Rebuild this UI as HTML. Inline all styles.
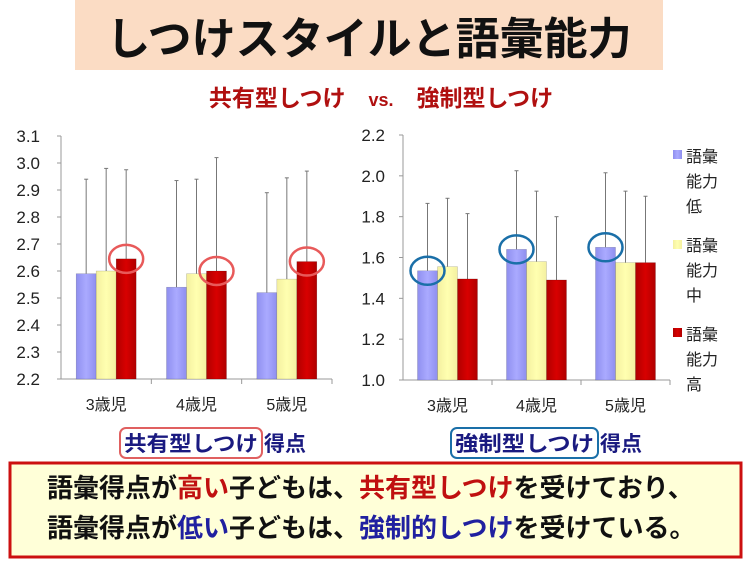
<!DOCTYPE html>
<html><head><meta charset="utf-8">
<style>
body{margin:0;width:750px;height:563px;background:#fff;overflow:hidden;font-family:"Liberation Sans","Noto Sans CJK JP",sans-serif;}
svg{position:absolute;left:0;top:0}
</style></head><body>
<svg id="chart" width="750" height="563" xmlns="http://www.w3.org/2000/svg">
<defs>
<linearGradient id="gb" x1="0" x2="1"><stop offset="0" stop-color="#8f8fef"/><stop offset="0.5" stop-color="#aaaaff"/><stop offset="1" stop-color="#8f8fef"/></linearGradient>
<linearGradient id="gy" x1="0" x2="1"><stop offset="0" stop-color="#f4f0a0"/><stop offset="0.5" stop-color="#ffffb0"/><stop offset="1" stop-color="#f4f0a0"/></linearGradient>
<linearGradient id="gr" x1="0" x2="1"><stop offset="0" stop-color="#b00000"/><stop offset="0.5" stop-color="#d80000"/><stop offset="1" stop-color="#b00000"/></linearGradient>
</defs>
<rect x="75" y="0" width="588" height="70" fill="#fbdcc4"/>
<text x="369" y="54" text-anchor="middle" font-size="44" font-weight="bold" fill="#111">しつけスタイルと語彙能力</text>
<text x="381" y="106" text-anchor="middle" font-size="23" font-weight="bold" fill="#b01010">共有型しつけ　<tspan font-size="18">vs.</tspan>　強制型しつけ</text>
<g id="left"></g>
<g id="right"></g>
<g font-size="16" fill="#222">
<rect x="673" y="150" width="9" height="9" fill="url(#gb)"/>
<text x="686" y="162"><tspan x="686">語彙</tspan><tspan x="686" dy="25">能力</tspan><tspan x="686" dy="25">低</tspan></text>
<rect x="673" y="240" width="9" height="9" fill="url(#gy)"/>
<text x="686" y="251"><tspan x="686">語彙</tspan><tspan x="686" dy="25">能力</tspan><tspan x="686" dy="25">中</tspan></text>
<rect x="673" y="328" width="9" height="9" fill="url(#gr)"/>
<text x="686" y="340"><tspan x="686">語彙</tspan><tspan x="686" dy="25">能力</tspan><tspan x="686" dy="25">高</tspan></text>
</g>
<rect x="120" y="428" width="142" height="30" rx="6" fill="none" stroke="#e06060" stroke-width="2"/>
<text x="124" y="451" font-size="21" font-weight="bold" fill="#1a1a80" textLength="134" lengthAdjust="spacingAndGlyphs">共有型しつけ</text>
<text x="264" y="451" font-size="21" font-weight="bold" fill="#1a1a80">得点</text>
<rect x="451" y="428" width="147" height="30" rx="6" fill="none" stroke="#1a6fa8" stroke-width="2"/>
<text x="455" y="451" font-size="21" font-weight="bold" fill="#1a1a80" textLength="139" lengthAdjust="spacingAndGlyphs">強制型しつけ</text>
<text x="600" y="451" font-size="21" font-weight="bold" fill="#1a1a80">得点</text>
<rect x="10" y="463" width="731" height="94" fill="#ffffd8" stroke="#cc1010" stroke-width="3"/>
<text x="47" y="497" font-size="26" font-weight="bold" fill="#111">語彙得点が<tspan fill="#c01010">高い</tspan>子どもは、<tspan fill="#c01010">共有型しつけ</tspan>を受けており、</text>
<text x="47" y="537" font-size="26" font-weight="bold" fill="#111">語彙得点が<tspan fill="#2020a0">低い</tspan>子どもは、<tspan fill="#2020a0">強制的しつけ</tspan>を受けている。</text>
</svg>
<script>
const categories=["3歳児","4歳児","5歳児"];
const leftLow=[2.59,2.54,2.52];
const leftMid=[2.60,2.59,2.57];
const leftHigh=[2.645,2.60,2.635];
const leftLowErr=[2.94,2.935,2.89];
const leftMidErr=[2.98,2.94,2.945];
const leftHighErr=[2.975,3.02,2.97];
const leftTicks=[2.2,2.3,2.4,2.5,2.6,2.7,2.8,2.9,3.0,3.1];
const rightLow=[1.535,1.64,1.65];
const rightMid=[1.555,1.58,1.575];
const rightHigh=[1.495,1.49,1.575];
const rightLowErr=[1.865,2.025,2.015];
const rightMidErr=[1.89,1.925,1.925];
const rightHighErr=[1.815,1.80,1.90];
const rightTicks=[1.0,1.2,1.4,1.6,1.8,2.0,2.2];
const NS="http://www.w3.org/2000/svg";
function mk(g,t,a){const e=document.createElementNS(NS,t);for(const k in a)e.setAttribute(k,a[k]);g.appendChild(e);return e;}
function draw(id,cfg){
 const g=document.getElementById(id);
 const y=v=>cfg.y0+(v-cfg.min)/(cfg.max-cfg.min)*(cfg.y1-cfg.y0);
 const cw=(cfg.x1-cfg.x0)/categories.length;
 cfg.ticks.forEach(t=>{
  const l=mk(g,'line',{x1:cfg.x0-4,x2:cfg.x0,y1:y(t),y2:y(t),stroke:'#999'});
  
  
  const tx=mk(g,'text',{x:cfg.x0-cfg.lab,y:y(t)+6,'font-size':17,fill:'#222','text-anchor':'end'});
  tx.textContent=t.toFixed(1);
  
  
 });
 const ax=mk(g,'line',{x1:cfg.x0,x2:cfg.x0,y1:cfg.y1,y2:cfg.y0,stroke:'#999'});
 
 
 const bx=mk(g,'line',{x1:cfg.x0,x2:cfg.x1,y1:cfg.y0,y2:cfg.y0,stroke:'#999'});
 
 
 const series=[[cfg.low,cfg.lowE,'url(#gb)','low'],[cfg.mid,cfg.midE,'url(#gy)','mid'],[cfg.high,cfg.highE,'url(#gr)','high']];
 categories.forEach((c,i)=>{
  const cx=cfg.x0+cw*(i+0.5);
  const tk=mk(g,'line',{x1:cfg.x0+cw*(i+1),x2:cfg.x0+cw*(i+1),y1:cfg.y0,y2:cfg.y0+5,stroke:'#999'});
  
  
  const lb=mk(g,'text',{x:cx,y:cfg.y0+31,'font-size':16,fill:'#222','text-anchor':'middle'});
  lb.textContent=c;
  
  
  series.forEach((s,j)=>{
   const bxp=cx-30+j*20;
   const top=y(s[0][i]);
   const el=mk(g,'line',{x1:bxp+10,x2:bxp+10,y1:y(s[1][i]),y2:top,stroke:'#777'});
   
   
   const cap=mk(g,'line',{x1:bxp+8,x2:bxp+12,y1:y(s[1][i]),y2:y(s[1][i]),stroke:'#777'});
   
   
   const r=mk(g,'rect',{x:bxp,y:top,width:20,height:cfg.y0-top,fill:s[2],stroke:'rgba(0,0,0,0.25)','stroke-width':0.5});
   
   
  });
  const hs=cfg.hl;const hx=cx-30+hs.idx*20+10;const hv=series[hs.idx][0][i];
  const e=mk(g,'ellipse',{cx:hx,cy:y(hv),rx:17,ry:14,fill:'none',stroke:hs.color,'stroke-width':2.5});
  
  
 });
}
draw('left',{x0:61,x1:332,y0:379,y1:136,min:2.2,max:3.1,ticks:leftTicks,lab:21,low:leftLow,mid:leftMid,high:leftHigh,lowE:leftLowErr,midE:leftMidErr,highE:leftHighErr,hl:{idx:2,color:'#e85a5a'}});
draw('right',{x0:403,x1:670,y0:380,y1:135,min:1.0,max:2.2,ticks:rightTicks,lab:18,low:rightLow,mid:rightMid,high:rightHigh,lowE:rightLowErr,midE:rightMidErr,highE:rightHighErr,hl:{idx:0,color:'#1a6fa8'}});
</script>
</body></html>
